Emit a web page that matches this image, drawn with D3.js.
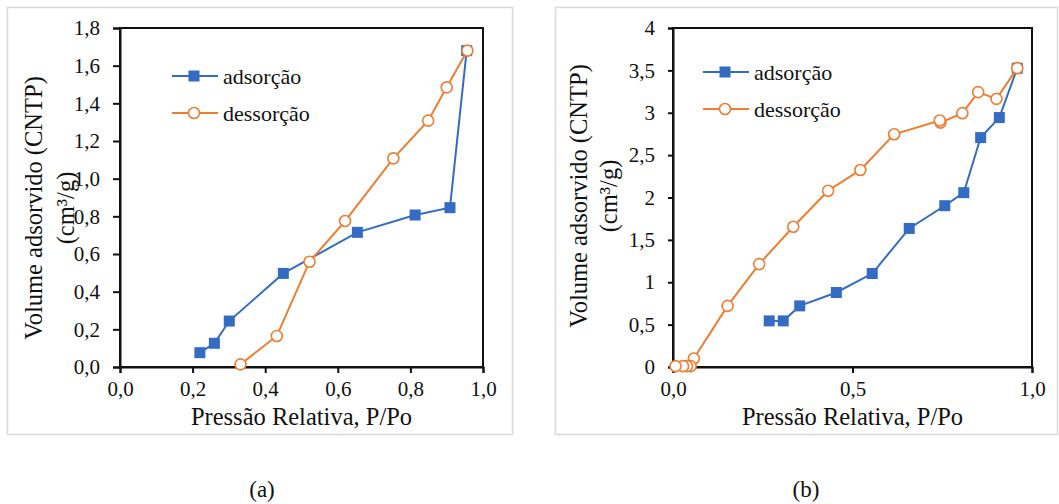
<!DOCTYPE html>
<html>
<head>
<meta charset="utf-8">
<script src="https://cdn.jsdelivr.net/npm/d3@7"></script>
<style>
  html, body { margin: 0; padding: 0; background: #fff; }
  svg { display: block; }
</style>
</head>
<body>
<svg id="chart" width="1059" height="504"></svg>
<script>
// Isotherm data, panel (a)
const adsA_x = [0.220, 0.260, 0.301, 0.450, 0.654, 0.813, 0.909, 0.955];
const adsA_y = [0.076, 0.126, 0.244, 0.497, 0.715, 0.807, 0.846, 1.680];
const desA_x = [0.957, 0.900, 0.849, 0.753, 0.620, 0.522, 0.432, 0.332];
const desA_y = [1.680, 1.485, 1.308, 1.108, 0.775, 0.559, 0.165, 0.014];

// Isotherm data, panel (b)
const adsB_x = [0.268, 0.307, 0.353, 0.455, 0.555, 0.658, 0.757, 0.810, 0.857, 0.909, 0.959];
const adsB_y = [0.544, 0.544, 0.721, 0.879, 1.103, 1.635, 1.903, 2.057, 2.707, 2.943, 3.526];
const desB_x = [0.959, 0.901, 0.850, 0.806, 0.745, 0.743, 0.616, 0.522, 0.432, 0.335, 0.240, 0.152, 0.058, 0.049, 0.039, 0.028, 0.007];
const desB_y = [3.526, 3.164, 3.243, 2.995, 2.884, 2.908, 2.746, 2.325, 2.080, 1.655, 1.214, 0.721, 0.100, 0.010, 0.010, 0.010, 0.010];

// Tick values
const ticksA_x = [0, 0.2, 0.4, 0.6, 0.8, 1.0];
const ticksA_y = [0, 0.2, 0.4, 0.6, 0.8, 1.0, 1.2, 1.4, 1.6, 1.8];
const ticksB_x = [0, 0.5, 1.0];
const ticksB_y = [0, 0.5, 1, 1.5, 2, 2.5, 3, 3.5, 4];

const seriesNames = ["adsorção", "dessorção"];
const xTitle = "Pressão Relativa, P/Po";
const yTitle = ["Volume adsorvido (CNTP)", "(cm³/g)"];
const panelLabels = ["(a)", "(b)"];

const BLUE = "#336cc2";
const ORANGE = "#ed7d31";
const INK = "#111";
const FONT = '"Liberation Serif", Tinos, "Times New Roman", serif';

const svg = d3.select("#chart");

const commaFixed = d => d3.format(".1f")(d).replace(".", ",");
const commaShort = d => String(d).replace(".", ",");

function label(sel, size) {
  return sel.style("font-family", FONT).style("font-size", size + "px").style("fill", INK);
}

function drawPanel(cfg) {
  const g = svg.append("g");

  // outer light frame
  g.append("rect")
    .attr("x", cfg.frame[0]).attr("y", cfg.frame[1])
    .attr("width", cfg.frame[2]).attr("height", cfg.frame[3])
    .attr("fill", "none").attr("stroke", "#d9d9d9").attr("stroke-width", 1.5);

  const x = d3.scaleLinear().domain([0, 1]).range([cfg.left, cfg.right]);
  const y = d3.scaleLinear().domain([0, cfg.yMax]).range([cfg.bottom, cfg.top]);

  // plot box
  g.append("rect")
    .attr("x", cfg.left).attr("y", cfg.top)
    .attr("width", cfg.right - cfg.left).attr("height", cfg.bottom - cfg.top)
    .attr("fill", "none").attr("stroke", INK).attr("stroke-width", 2);

  const xAxis = g.append("g")
    .attr("transform", `translate(0,${cfg.bottom})`)
    .call(d3.axisBottom(x).tickValues(cfg.xTicks).tickFormat(commaFixed).tickSize(6).tickPadding(8));
  const yAxis = g.append("g")
    .attr("transform", `translate(${cfg.left},0)`)
    .call(d3.axisLeft(y).tickValues(cfg.yTicks).tickFormat(cfg.yFormat).tickSize(cfg.yTickLen).tickPadding(13));

  [xAxis, yAxis].forEach(ax => {
    ax.select(".domain").attr("stroke", INK).attr("stroke-width", 2);
    ax.selectAll(".tick line").attr("stroke", INK).attr("stroke-width", 2);
    label(ax.selectAll(".tick text"), 21);
  });

  // axis titles
  label(g.append("text"), 24.5)
    .attr("x", (cfg.left + cfg.right) / 2).attr("y", 425)
    .attr("text-anchor", "middle")
    .text(xTitle);

  yTitle.forEach((t, i) => {
    label(g.append("text"), 24.5)
      .attr("transform", `translate(${cfg.yTitleX[i]},${cfg.yTitleCy}) rotate(-90)`)
      .attr("text-anchor", "middle").attr("dominant-baseline", "central")
      .text(t);
  });

  const line = d3.line().x(d => x(d[0])).y(d => y(d[1]));
  const ads = cfg.adsX.map((v, i) => [v, cfg.adsY[i]]);
  const des = cfg.desX.map((v, i) => [v, cfg.desY[i]]);

  // adsorption branch
  g.append("path").datum(ads).attr("d", line)
    .attr("fill", "none").attr("stroke", BLUE).attr("stroke-width", 2);
  g.selectAll(null).data(ads).enter().append("rect")
    .attr("x", d => x(d[0]) - 5.5).attr("y", d => y(d[1]) - 5.5)
    .attr("width", 11).attr("height", 11)
    .attr("fill", BLUE);

  // desorption branch
  g.append("path").datum(des).attr("d", line)
    .attr("fill", "none").attr("stroke", ORANGE).attr("stroke-width", 2);
  g.selectAll(null).data(des).enter().append("circle")
    .attr("cx", d => x(d[0])).attr("cy", d => y(d[1])).attr("r", 5.5)
    .attr("fill", "#fff").attr("stroke", ORANGE).attr("stroke-width", 1.6);

  // legend
  const lg = g.append("g").attr("transform", `translate(${cfg.legend[0]},${cfg.legend[1]})`);
  seriesNames.forEach((name, i) => {
    const row = lg.append("g").attr("transform", `translate(0,${i * 37})`);
    const col = i === 0 ? BLUE : ORANGE;
    row.append("line").attr("x1", 0).attr("x2", 46).attr("y1", 0).attr("y2", 0)
      .attr("stroke", col).attr("stroke-width", 2);
    if (i === 0) {
      row.append("rect").attr("x", 22 - 5.5).attr("y", -5.5).attr("width", 11).attr("height", 11).attr("fill", BLUE);
    } else {
      row.append("circle").attr("cx", 22).attr("cy", 0).attr("r", 5.5)
        .attr("fill", "#fff").attr("stroke", ORANGE).attr("stroke-width", 1.6);
    }
    label(row.append("text"), 22)
      .attr("x", 51).attr("y", 0)
      .attr("dominant-baseline", "central")
      .text(name);
  });

  // panel label
  label(g.append("text"), 23)
    .attr("x", cfg.labelX).attr("y", 497)
    .attr("text-anchor", "middle")
    .text(cfg.label);
}

drawPanel({
  frame: [7.5, 7.5, 505, 427],
  left: 120, right: 483, top: 28, bottom: 367,
  yMax: 1.8, xTicks: ticksA_x, yTicks: ticksA_y, yFormat: commaFixed, yTickLen: 7,
  yTitleX: [33, 65], yTitleCy: 208,
  adsX: adsA_x, adsY: adsA_y, desX: desA_x, desY: desA_y,
  legend: [172, 76],
  label: panelLabels[0], labelX: 262
});

drawPanel({
  frame: [555.5, 7.5, 502, 427],
  left: 673, right: 1032, top: 28, bottom: 367,
  yMax: 4, xTicks: ticksB_x, yTicks: ticksB_y, yFormat: commaShort, yTickLen: 5,
  yTitleX: [578, 608], yTitleCy: 196,
  adsX: adsB_x, adsY: adsB_y, desX: desB_x, desY: desB_y,
  legend: [703, 72],
  label: panelLabels[1], labelX: 806
});
</script>
</body>
</html>
